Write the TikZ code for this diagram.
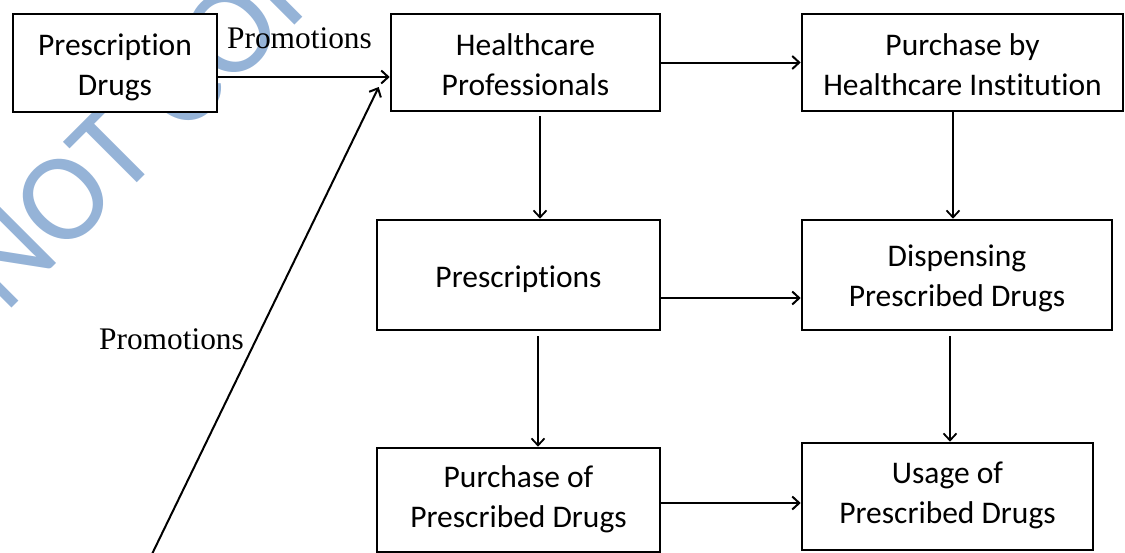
\documentclass[tikz,border=0pt]{standalone}
\usepackage{fontspec}
\setmainfont{Liberation Serif}
\newfontfamily\boxfont{Carlito}[Ligatures={NoCommon}]
\usetikzlibrary{arrows.meta}
\definecolor{markblue}{RGB}{149,179,215}
\begin{document}
\begin{tikzpicture}[x=1pt,y=-1pt,
  stage/.style={draw, line width=2.6pt, fill=white, inner sep=0pt, align=center,
    font=\boxfont\fontsize{31.5}{40}\selectfont},
  toprow/.style={stage, text height=70pt, text depth=5pt},
  midrow/.style={stage, text height=67pt, text depth=5pt},
  lowrow/.style={stage, text height=60pt, text depth=6pt},
  oneline/.style={stage, text height=29pt, text depth=5pt},
  flow/.style={line width=2pt, -{Straight Barb[length=7pt,width=13pt,line width=2pt]}},
  drop/.style={line width=1.6pt, -{Straight Barb[length=7pt,width=13pt,line width=1.8pt]}},
  tag/.style={inner sep=0pt, anchor=base, font=\fontsize{31.4}{36}\selectfont},
  stamp/.style={inner sep=0pt, text=markblue, rotate=45,
    font=\boxfont\fontsize{126}{130}\selectfont}]

\clip (0,0) rectangle (1125,552);

% faint stamp behind the chart
\node[stamp] (stampmark) at (163,100) {NOT COPY};

% stages
\node[toprow, minimum width=204pt, minimum height=98pt]  (pd)    at (115,63)      {Prescription\\Drugs};
\node[toprow, minimum width=269pt, minimum height=97pt]  (hp)    at (525.5,62.5)  {Healthcare\\Professionals};
\node[toprow, minimum width=321pt, minimum height=97pt]  (pbhi)  at (962.5,62.5)  {Purchase by\\Healthcare Institution};
\node[oneline, minimum width=283pt, minimum height=110pt] (pres) at (518.5,275)   {Prescriptions};
\node[midrow, minimum width=310pt, minimum height=110pt] (disp)  at (957,275)     {Dispensing\\Prescribed Drugs};
\node[lowrow, minimum width=283pt, minimum height=104pt] (ppd)   at (518.5,500)   {Purchase of\\Prescribed Drugs};
\node[lowrow, minimum width=291pt, minimum height=107pt] (usage) at (947.5,496.5) {Usage of\\Prescribed Drugs};

% labels
\node[tag] (promotop)  at (299.5,48)  {Promotions};
\node[tag] (promoside) at (171.5,349) {Promotions};

% horizontal flows
\draw[flow] ([yshift=-14pt]pd.east) -- ([yshift=-14pt]pd.east -| hp.west);
\draw[flow] (hp.east) -- (pbhi.west);
\draw[flow] ([yshift=-23pt]pres.east) -- ([yshift=-23pt]pres.east -| disp.west);
\draw[flow] ([yshift=-3pt]ppd.east) -- ([yshift=-3pt]ppd.east -| usage.west);

% vertical flows
\draw[drop] ([xshift=14.5pt,yshift=-4pt]hp.south) -- ([xshift=14.5pt]hp.south |- pres.north);
\draw[drop] ([xshift=-9.5pt]pbhi.south) -- ([xshift=-9.5pt]pbhi.south |- disp.north);
\draw[drop] ([xshift=19.5pt,yshift=-5pt]pres.south) -- ([xshift=19.5pt]pres.south |- ppd.north);
\draw[drop] ([xshift=-7pt,yshift=-5pt]disp.south) -- ([xshift=-7pt]disp.south |- usage.north);

% diagonal promotion line
\coordinate (promofoot) at (150.1,558);
\draw[flow] (promofoot) -- ([xshift=-11pt,yshift=-24.5pt]hp.west);

\end{tikzpicture}
\end{document}
